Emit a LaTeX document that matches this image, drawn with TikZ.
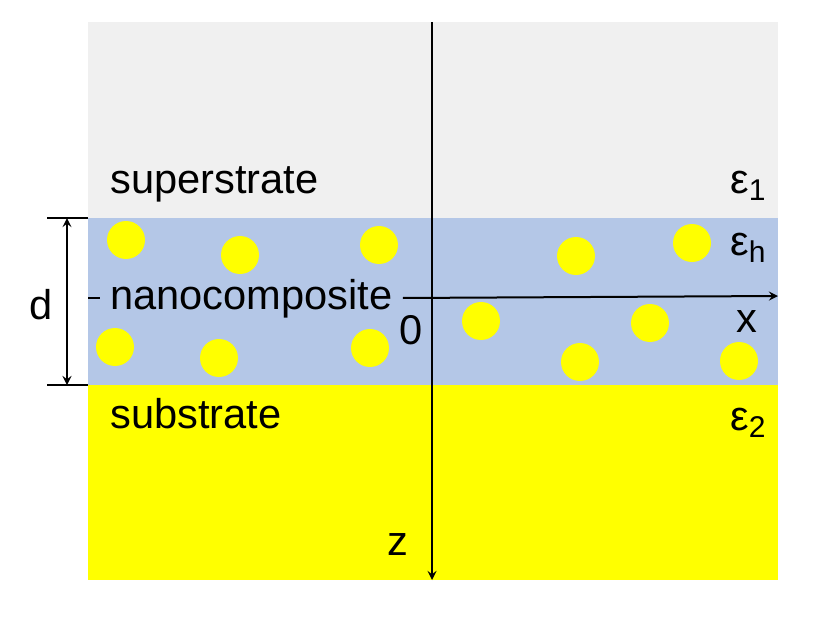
\documentclass[tikz,border=0pt]{standalone}
\usepackage{fontspec}
\setmainfont{Liberation Sans}
\usetikzlibrary{arrows,positioning}

\definecolor{supergray}{HTML}{F0F0F0}
\definecolor{hostblue}{HTML}{B4C7E7}
\definecolor{goldyellow}{HTML}{FFFF00}
\newcommand{\epsub}[1]{ε\raisebox{-0.35ex}{\fontsize{15}{15}\selectfont #1}}

\begin{document}
\begin{tikzpicture}[x=0.5pt,y=-0.5pt,>=stealth,
    lbl/.style={font=\fontsize{20.8}{24}\selectfont,inner sep=0pt},
    particle/.style={circle,fill=goldyellow,minimum size=19pt,inner sep=0pt},
    axis/.style={line width=1pt}]
    \useasboundingbox (0,0) rectangle (832,621);
    % layers
    \fill[supergray] (88,22) rectangle (778,218);
    \fill[hostblue] (88,218) rectangle (778,385);
    \fill[goldyellow] (88,385) rectangle (778,580);
    % particles
    \foreach \px/\py [count=\i] in {126/240,240/255,379/245,576/256,692/243,
            481/321,650/323,115/347,219/358,370/348,580/362,739/361}
        \node[particle] (p\i) at (\px,\py) {};
    % labels
    \node[lbl,anchor=base west] (super) at (110,193) {superstrate};
    \node[lbl,anchor=base west] (sub) at (110,428) {substrate};
    \node[lbl,anchor=base west,inner xsep=5pt] (nano) at (100,309) {nanocomposite};
    \node[lbl,anchor=base west] (eps1) at (730,193) {\epsub{1}};
    \node[lbl,anchor=base west] (epsh) at (730,255) {\epsub{h}};
    \node[lbl,anchor=base west] (eps2) at (730,430) {\epsub{2}};
    \node[lbl] (zero) at (411,330) {0};
    \node[lbl] (xlab) at (747,322) {x};
    \node[lbl] (zlab) at (398,545) {z};
    \node[lbl] (dlab) at (41,305) {d};
    % axes
    \coordinate (xl) at (88,298);
    \coordinate (xr) at (778,296);
    \coordinate (zt) at (432,22);
    \coordinate (zb) at (432,580);
    \draw[axis] (xl) -- (nano.west |- xl);
    \draw[axis,->] (nano.east |- xl) -- (xr);
    \draw[axis,->] (zt) -- (zb);
    % thickness d
    \coordinate (dt) at (47,218);
    \coordinate (db) at (47,385);
    \draw[axis] (dt) -- +(41,0);
    \draw[axis] (db) -- +(41,0);
    \draw[axis,<->] ([xshift=10pt]dt) -- ([xshift=10pt]db);
\end{tikzpicture}
\end{document}
